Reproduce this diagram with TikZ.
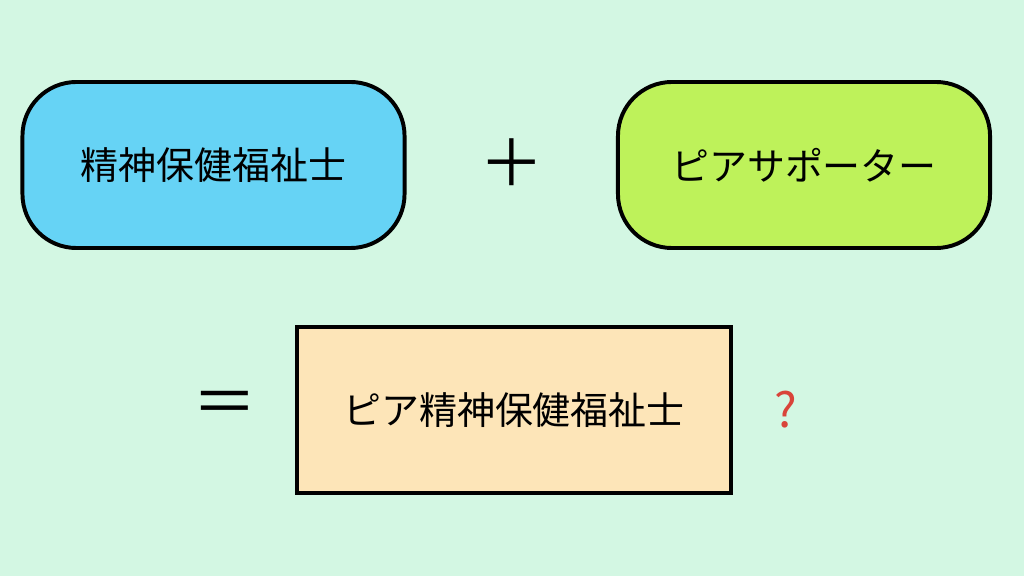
\documentclass[tikz,border=0pt]{standalone}
\usepackage{fontspec}
\newfontfamily\jpfont{Noto Sans CJK JP}
\usetikzlibrary{positioning}
\definecolor{bgmint}{HTML}{D3F7E3}
\definecolor{boxcyan}{HTML}{66D3F5}
\definecolor{boxlime}{HTML}{BEF25A}
\definecolor{boxcream}{HTML}{FDE5B8}
\definecolor{qred}{HTML}{D9443A}
\tikzset{mbox/.style={draw=black,line width=2.8pt,minimum height=4.15cm,font=\jpfont\fontsize{27}{30}\selectfont}}
\tikzset{mround/.style={mbox,rounded corners=1.35cm}}
\tikzset{msign/.style={font=\jpfont\fontsize{46}{50}\selectfont}}

\begin{document}
\begin{tikzpicture}[x=0.025cm,y=-0.025cm]
\fill[bgmint] (0,0) rectangle (1024,576);
\useasboundingbox (0,0) rectangle (1024,576);
\node[mround,fill=boxcyan,minimum width=9.55cm] (seishin) at (213.5,165) {精神保健福祉士};
\node[mround,fill=boxlime,minimum width=9.3cm] (peer) at (804,165) {ピアサポーター};
\node[msign] (plus) at (512,163) {＋};

\node[mbox,fill=boxcream,minimum width=10.85cm] (result) at (514,410) {ピア精神保健福祉士};
\node[msign] (equal) at (225,408) {＝};
\node[font=\jpfont\fontsize{34}{38}\selectfont,text=qred] (question) at (786,410) {?};
\end{tikzpicture}
\end{document}
